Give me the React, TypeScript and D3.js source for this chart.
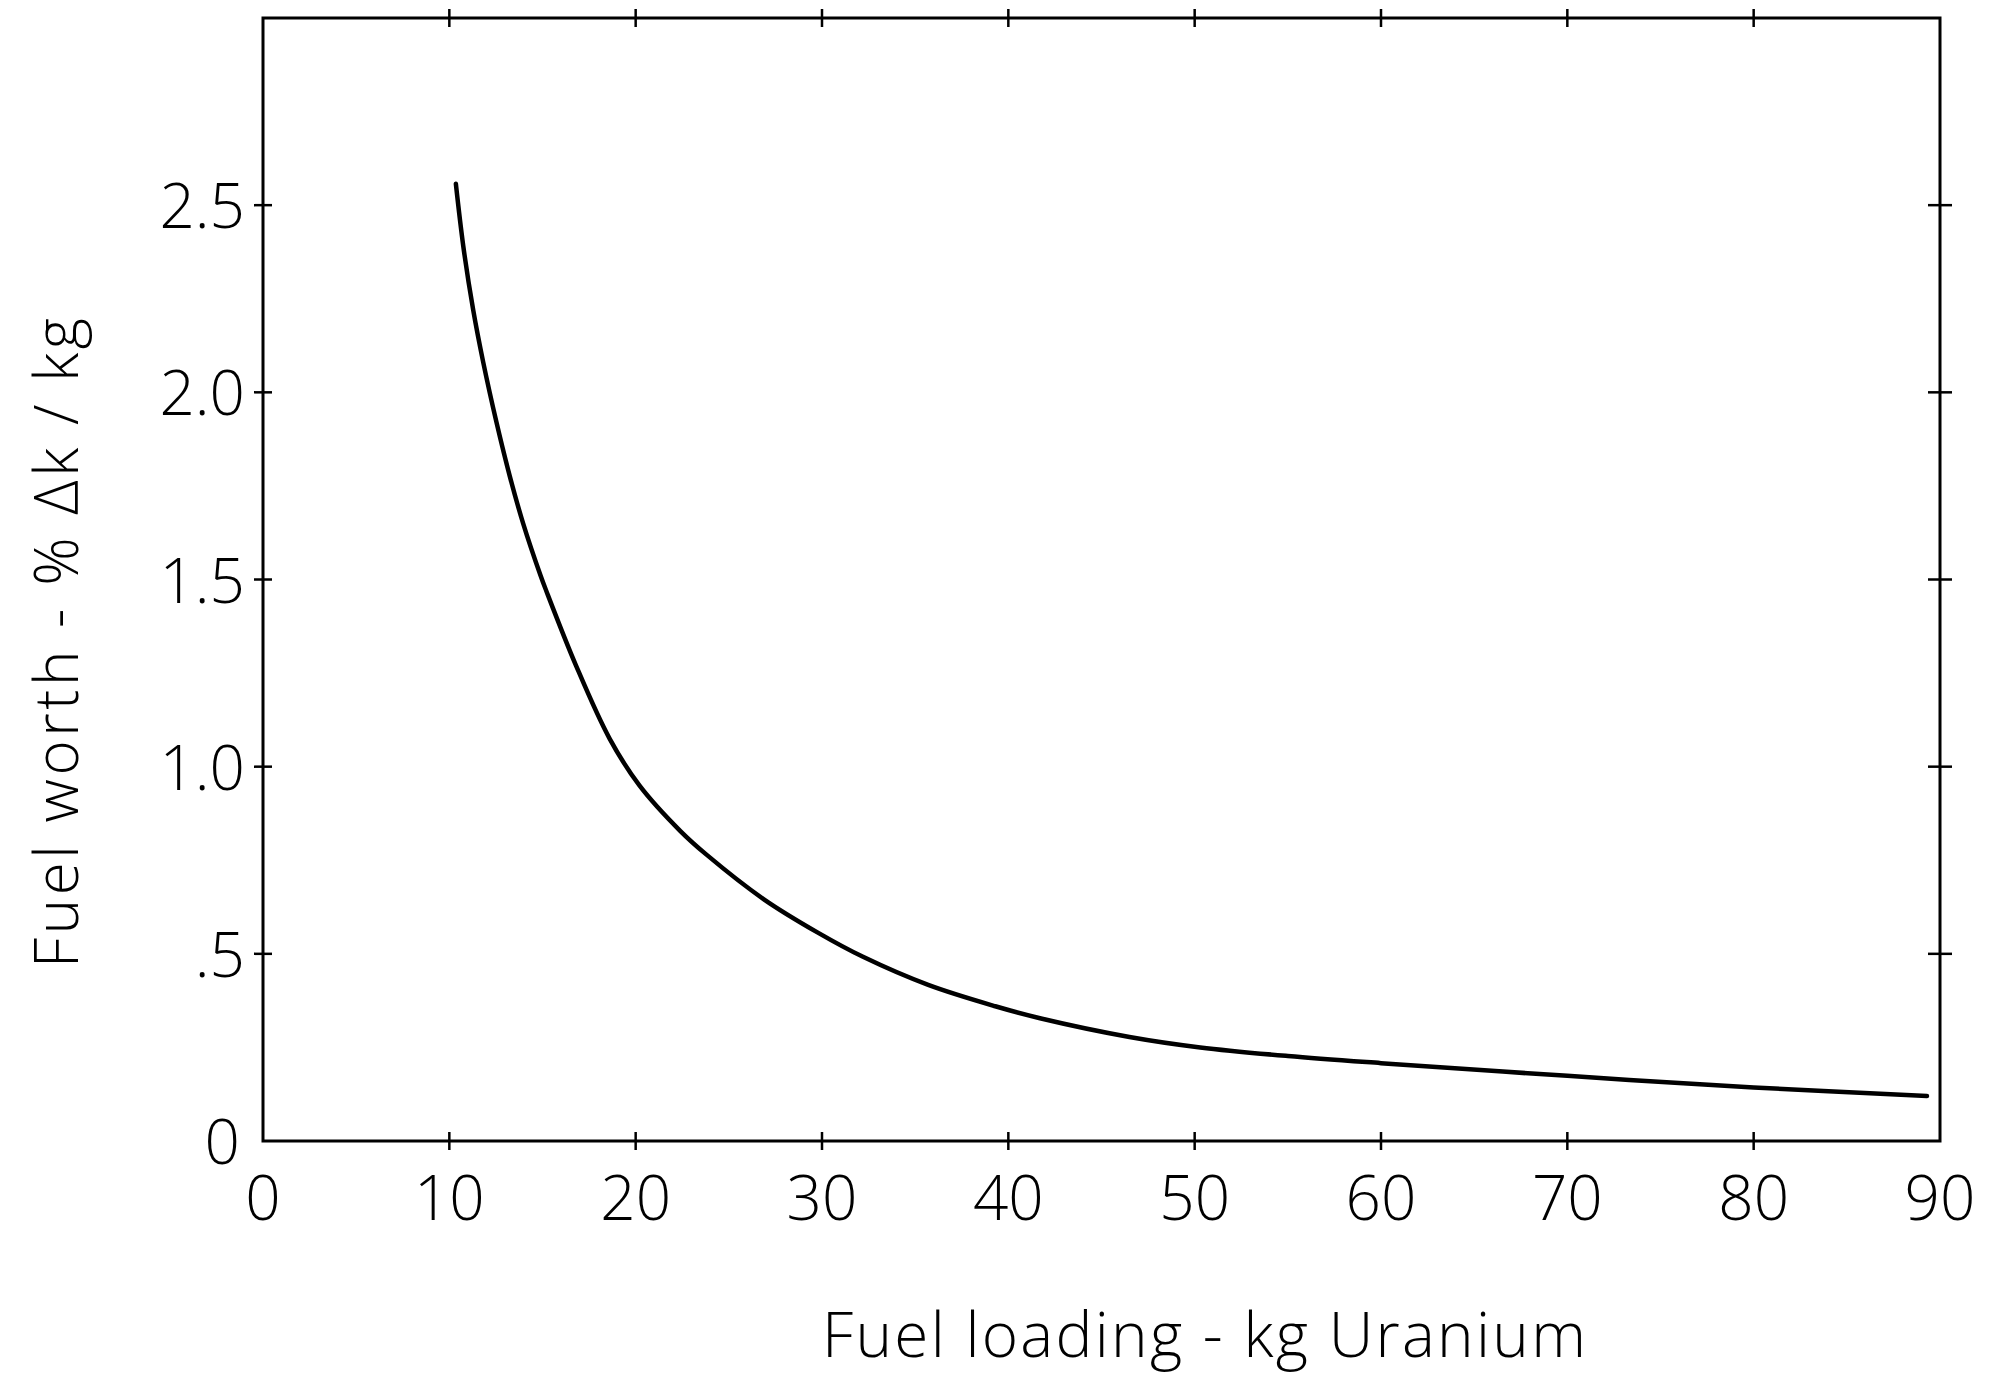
import * as d3 from "d3";

// curve: fuel loading (kg U) vs fuel worth (%Δk/kg)
const loadingKg = [
  10.35, 10.75, 11.28, 11.82, 12.53, 13.25, 13.96, 14.9, 15.2, 16.8, 18.6,
  20.2, 22.4, 23.8, 26.9, 29.8, 32.2, 35.7, 39.3, 41.7, 46.5, 50.3, 55, 60, 70,
  80, 89.3,
];
const worthPct = [
  2.557, 2.39, 2.22, 2.08, 1.92, 1.775, 1.65, 1.51, 1.47, 1.27, 1.075, 0.95,
  0.828, 0.765, 0.645, 0.556, 0.492, 0.417, 0.36, 0.328, 0.278, 0.25, 0.227,
  0.208, 0.174, 0.143, 0.12,
];

const xTicks = [0, 10, 20, 30, 40, 50, 60, 70, 80, 90];
const yTicks = [0, 0.5, 1.0, 1.5, 2.0, 2.5];
const yTickLabels = ["0", ".5", "1.0", "1.5", "2.0", "2.5"];

const W = 1998;
const H = 1374;
const left = 263;
const right = 1940;
const top = 18;
const bottom = 1141;
const font = "'Open Sans', 'DejaVu Sans', sans-serif";

export default function App() {
  const x = d3.scaleLinear().domain([0, 90]).range([left, right]);
  const y = d3.scaleLinear().domain([0, 3]).range([bottom, top]);

  const points: [number, number][] = loadingKg.map((k, i) => [k, worthPct[i]]);
  const line = d3
    .line<[number, number]>()
    .x((d) => x(d[0]))
    .y((d) => y(d[1]))
    .curve(d3.curveCatmullRom.alpha(0.5));

  const tk = 9; // half-length of the cross ticks
  const innerX = xTicks.filter((t) => t > 0 && t < 90);
  const innerY = yTicks.filter((t) => t > 0);

  return (
    <svg
      width={W}
      height={H}
      style={{ position: "absolute", left: 0, top: 0, background: "#fff" }}
    >
      {/* frame */}
      <rect
        x={left}
        y={top}
        width={right - left}
        height={bottom - top}
        fill="none"
        stroke="#000"
        strokeWidth={3}
      />

      {/* cross ticks on all four sides */}
      {innerX.map((t) => (
        <g key={"xt" + t} stroke="#000" strokeWidth={2.5}>
          <line x1={x(t)} x2={x(t)} y1={top - tk} y2={top + tk} />
          <line x1={x(t)} x2={x(t)} y1={bottom - tk} y2={bottom + tk} />
        </g>
      ))}
      {innerY.map((t) => (
        <g key={"yt" + t} stroke="#000" strokeWidth={2.5}>
          <line x1={left - tk} x2={left + tk} y1={y(t)} y2={y(t)} />
          <line x1={right - 12} x2={right + 12} y1={y(t)} y2={y(t)} />
        </g>
      ))}

      {/* tick labels */}
      {xTicks.map((t) => (
        <text
          key={"xl" + t}
          x={x(t)}
          y={1220}
          textAnchor="middle"
          fontFamily={font}
          fontWeight={300}
          fontSize={62}
        >
          {t}
        </text>
      ))}
      {yTicks.map((t, i) => (
        <text
          key={"yl" + t}
          x={t === 0 ? 240 : 245}
          y={y(t) + 23}
          textAnchor="end"
          fontFamily={font}
          fontWeight={300}
          fontSize={62}
        >
          {yTickLabels[i]}
        </text>
      ))}

      {/* curve */}
      <path
        d={line(points) || ""}
        fill="none"
        stroke="#000"
        strokeWidth={4.5}
        strokeLinecap="round"
      />

      {/* axis titles */}
      <text
        x={1204}
        y={1357}
        textAnchor="middle"
        fontFamily={font}
        fontWeight={300}
        fontSize={62}
        textLength={764}
        lengthAdjust="spacing"
      >
        Fuel loading - kg Uranium
      </text>
      <text
        transform="translate(78,643) rotate(-90)"
        textAnchor="middle"
        fontFamily={font}
        fontWeight={300}
        fontSize={60}
        textLength={650}
        lengthAdjust="spacing"
      >
        Fuel worth - % Δk / kg
      </text>
    </svg>
  );
}
